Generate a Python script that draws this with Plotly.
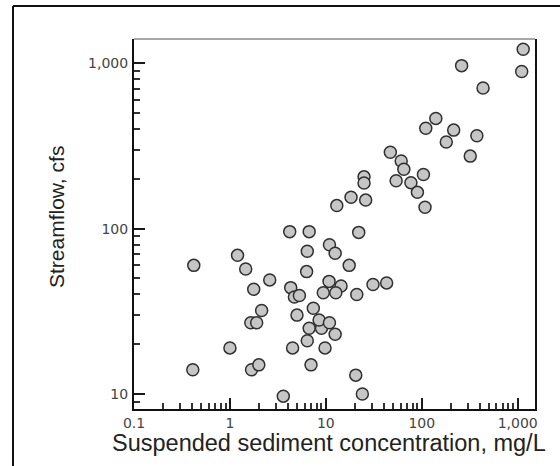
import plotly.graph_objects as go

# Suspended sediment concentration (mg/L) and streamflow (cfs) samples
sediment_mg_l = [1140, 260, 1100, 435, 140, 110, 215, 375, 180, 320,
                 47, 61, 65, 104, 54, 77, 90, 108, 25, 25,
                 26, 18.3, 13, 22, 4.2, 6.7, 10.9, 12.5, 6.4, 17.5,
                 6.3, 1.2, 1.46, 0.42, 2.6, 1.77, 4.3, 4.7, 5.3, 10.8,
                 14.4, 12.7, 9.4, 21, 31, 43, 2.14, 5.0, 7.4, 1.65,
                 1.9, 6.7, 9.0, 8.5, 10.9, 12.5, 6.4, 1.0, 4.5, 9.8,
                 7.0, 0.41, 1.68, 2.0, 20.5, 3.6, 24]
streamflow_cfs = [1220, 970, 895, 710, 465, 405, 395, 365, 335, 275,
                  290, 257, 229, 213, 195, 190, 166, 135, 206, 189,
                  149, 155, 138, 95, 96, 96, 80, 71, 73, 60,
                  55, 69, 57, 60, 49, 43, 44, 38.6, 39.4, 48,
                  45, 41, 41, 40, 46, 47, 32, 30, 33, 27,
                  27, 25, 25, 28, 27, 23, 21, 19, 19, 19,
                  15, 14, 14, 15, 13, 9.7, 10]

x_major = [0.1, 1, 10, 100, 1000]
x_major_text = ["0.1", "1", "10", "100", "1,000"]
y_major = [10, 100, 1000]
y_major_text = ["10", "100", "1,000"]

X_RANGE = [-1.0, 3.18]
Y_RANGE = [0.909, 3.148]


def decade_ticks(majors, labels, lo, hi):
    """Major ticks with labels plus unlabelled 2..9 minor ticks inside [lo, hi]."""
    vals, text = [], []
    for d in [majors[0] / 10] + majors:
        for m in range(1, 10):
            v = m * d
            if lo <= v <= hi:
                vals.append(v)
                text.append(labels[majors.index(v)] if v in majors else "")
    return vals, text


x_vals, x_text = decade_ticks(x_major, x_major_text, 10 ** X_RANGE[0] * 0.999, 10 ** X_RANGE[1])
y_vals, y_text = decade_ticks(y_major, y_major_text, 10 ** Y_RANGE[0], 10 ** Y_RANGE[1])

W, H = 560, 466
L, R, T, B = 134, 25, 39, 57
pw, ph = W - L - R, H - T - B


def px_x(p):
    return (p - L) / pw


def px_y(p):
    return (H - B - p) / ph


fig = go.Figure()
fig.add_trace(go.Scatter(
    x=sediment_mg_l, y=streamflow_cfs, mode="markers",
    marker=dict(size=12, color="#c6c6c6",
                line=dict(color="#303030", width=1.5)),
    hoverinfo="x+y", showlegend=False,
))
# empty trace that carries the overlaid axes used for the longer decade ticks
fig.add_trace(go.Scatter(x=[], y=[], xaxis="x2", yaxis="y2",
                         showlegend=False, hoverinfo="skip"))

tick_font = dict(family="DejaVu Sans", size=14, color="#444444")

fig.update_layout(
    xaxis=dict(
        type="log", range=X_RANGE, showgrid=False, zeroline=False,
        tickmode="array", tickvals=x_vals, ticktext=x_text,
        ticks="inside", ticklen=6, tickwidth=2, tickcolor="#333333",
        showline=True, linecolor="#111111", linewidth=2, mirror=False,
        tickfont=tick_font,
    ),
    yaxis=dict(
        type="log", range=Y_RANGE, showgrid=False, zeroline=False,
        tickmode="array", tickvals=y_vals, ticktext=y_text,
        ticks="inside", ticklen=6, tickwidth=2, tickcolor="#333333",
        showline=True, linecolor="#111111", linewidth=2, mirror=True,
        tickfont=tick_font, ticklabelstandoff=1,
    ),
    xaxis2=dict(
        type="log", range=X_RANGE, showgrid=False, zeroline=False,
        overlaying="x", anchor="y", side="bottom",
        tickmode="array", tickvals=x_major, showticklabels=False,
        ticks="inside", ticklen=11, tickwidth=2, tickcolor="#1a1a1a",
    ),
    yaxis2=dict(
        type="log", range=Y_RANGE, showgrid=False, zeroline=False,
        overlaying="y", anchor="x", side="left",
        tickmode="array", tickvals=y_major, showticklabels=False,
        ticks="inside", ticklen=11, tickwidth=2, tickcolor="#1a1a1a",
    ),
    width=W, height=H,
    margin=dict(l=L, r=R, t=T, b=B),
    paper_bgcolor="white", plot_bgcolor="white",
    shapes=[
        # light top edge of the plotting frame
        dict(type="line", xref="paper", yref="paper", x0=0, x1=1, y0=1, y1=1,
             line=dict(color="#a8a8a8", width=2)),
        # outer figure border (top and left edges)
        dict(type="line", xref="paper", yref="paper",
             x0=px_x(13), x1=px_x(562), y0=px_y(6), y1=px_y(6),
             line=dict(color="#111111", width=2)),
        dict(type="line", xref="paper", yref="paper",
             x0=px_x(13), x1=px_x(13), y0=px_y(6), y1=px_y(468),
             line=dict(color="#111111", width=2)),
    ],
    annotations=[
        dict(text="Suspended sediment concentration, mg/L", xref="paper", yref="paper",
             x=px_x(328.5), y=px_y(443), xanchor="center", yanchor="middle",
             showarrow=False, font=dict(family="Liberation Sans, Arial", size=23.5, color="#222222")),
        dict(text="Streamflow, cfs", xref="paper", yref="paper",
             x=px_x(56), y=px_y(217), xanchor="center", yanchor="middle",
             textangle=-90, showarrow=False,
             font=dict(family="Liberation Sans, Arial", size=21, color="#222222")),
    ],
)

fig.write_html("out.html")
